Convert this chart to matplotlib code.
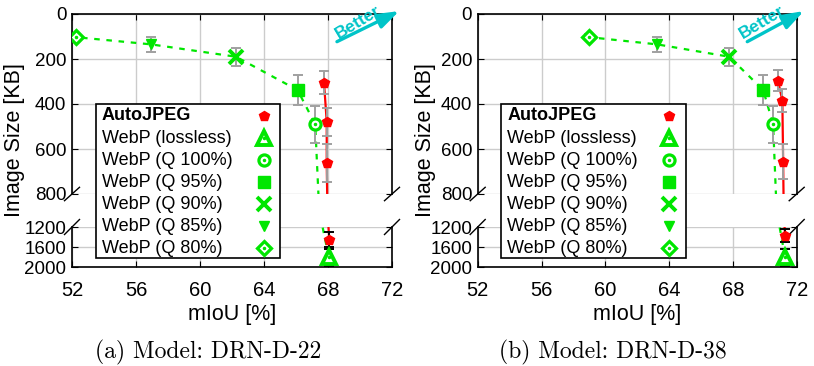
import matplotlib
matplotlib.use('Agg')
from matplotlib import pyplot as plt
from matplotlib.lines import Line2D
from matplotlib.patches import Rectangle

# Dados
webp_labels = ['WebP (lossless)', 'WebP (Q 100%)', 'WebP (Q 95%)',
               'WebP (Q 90%)', 'WebP (Q 85%)', 'WebP (Q 80%)']
webp_size = [1800, 490, 338, 190, 135, 103]
webp_err = [170, 83, 66, 40, 32, 12]
webp_miou_22 = [68.05, 67.2, 66.1, 62.25, 56.95, 52.25]
webp_miou_38 = [71.27, 70.52, 69.9, 67.77, 63.25, 59.0]

auto_label = 'AutoJPEG'
auto_miou_22 = [67.75, 67.92, 67.92, 68.08]
auto_size_22 = [305, 478, 662, 1450]
auto_err_22 = [50, 62, 85, 150]
auto_miou_38 = [70.83, 71.1, 71.15, 71.27]
auto_size_38 = [296, 385, 656, 1377]
auto_err_38 = [47, 52, 77, 130]

captions = ['(a) Model: DRN-D-22', '(b) Model: DRN-D-38']
x_ticks = [52, 56, 60, 64, 68, 72]
y_ticks_top = [0, 200, 400, 600, 800]
y_ticks_bot = [1200, 1600, 2000]

GREEN = '#00e600'
RED = '#ff0000'
CYAN = '#00c4c8'
GRID = '#cccccc'

plt.rcParams['font.family'] = ['Liberation Sans', 'DejaVu Sans']

W, H = 814, 366
fig = plt.figure(figsize=(W / 100, H / 100), dpi=100)


def px(x0, y0, w, h):
    # retangulo em pixels (topo-esquerda) -> fracao da figura
    return [x0 / W, 1 - (y0 + h) / H, w / W, h / H]


def fx(x):
    return x / W


def fy(y):
    return 1 - y / H


# (marker, tamanho, face, espessura)
auto_marker = dict(marker='p', ms=7.2, color=RED)
marcadores = [('^', 10.5, 'white', 2.8), ('o', 8, 'white', 2.3), ('s', 8.2, GREEN, 1.0),
              ('x', 10, GREEN, 2.8), ('v', 6.8, GREEN, 1.0), ('D', 7.2, 'white', 2.3)]
com_ponto = [True, True, False, False, False, True]


def legenda(x_left):
    fig.add_artist(Rectangle((fx(x_left + 23.5), fy(258.3)), 184.5 / W, 154 / H,
                             transform=fig.transFigure, fc='white', ec='black',
                             lw=1.2, zorder=10))
    labels = [auto_label] + webp_labels
    for i, lab in enumerate(labels):
        yy = fy(116 + 22.05 * i)
        fig.text(fx(x_left + 29.5), yy, lab, fontsize=13, ha='left', va='center',
                 fontweight='bold' if i == 0 else 'normal', zorder=11)
        if i == 0:
            kw = dict(auto_marker)
        else:
            m, ms, fc, mew = marcadores[i - 1]
            kw = dict(marker=m, ms=ms, mfc=fc, mec=GREEN, mew=mew)
        fig.add_artist(Line2D([fx(x_left + 191.5)], [yy], ls='none',
                              transform=fig.transFigure, zorder=11, **kw))
        if i > 0 and com_ponto[i - 1]:
            fig.add_artist(Line2D([fx(x_left + 191.5)], [yy], ls='none', marker='.',
                                  ms=3, color=GREEN, transform=fig.transFigure, zorder=12))


def painel(x_left, width, miou_w, miou_a, size_a, err_a, caption,
           arrow_x0, better_x, ylabel_x):
    ax_t = fig.add_axes(px(x_left, 14, width, 180))
    ax_b = fig.add_axes(px(x_left, 227, width, 40))
    for ax, lo, hi, ticks, cor_err in [(ax_t, 0, 800, y_ticks_top, '#a0a0a0'),
                                       (ax_b, 1200, 2000, y_ticks_bot, 'black')]:
        ax.set_xlim(52, 72)
        ax.set_ylim(hi, lo)
        ax.set_xticks(x_ticks)
        ax.set_yticks(ticks)
        ax.grid(True, color=GRID, lw=1)
        ax.set_axisbelow(True)
        ax.tick_params(axis='y', direction='in', length=4, labelsize=13.5, pad=4)
        ax.tick_params(axis='x', direction='in', length=4, labelsize=14.5, pad=10)
        for s in ax.spines.values():
            s.set_linewidth(1.2)

        # linhas
        ax.plot(miou_w, webp_size, ls=(0, (2.5, 3)), color=GREEN, lw=1.6, zorder=2)
        ax.plot(miou_a, size_a, '-', color=RED, lw=1.6, zorder=2)
        ax.errorbar(miou_w, webp_size, yerr=webp_err, fmt='none', ecolor=cor_err,
                    elinewidth=1.4, capsize=3.6, capthick=1.4, zorder=3)
        ax.errorbar(miou_a, size_a, yerr=err_a, fmt='none', ecolor=cor_err,
                    elinewidth=1.4, capsize=3.6, capthick=1.4, zorder=3)
        for i, (m, ms, fc, mew) in enumerate(marcadores):
            ax.plot(miou_w[i], webp_size[i], m, ms=ms, mfc=fc, mec=GREEN, mew=mew, zorder=4)
            if com_ponto[i]:
                ax.plot(miou_w[i], webp_size[i], '.', ms=3, color=GREEN, zorder=5)
        ax.plot(miou_a, size_a, ls='none', zorder=5, **auto_marker)

    ax_t.spines['bottom'].set_visible(False)
    ax_t.tick_params(labelbottom=False, bottom=False, top=True, right=True)
    ax_b.spines['top'].set_visible(False)
    ax_b.tick_params(top=False, right=True)
    ax_b.set_xlabel('mIoU [%]', fontsize=15.5, labelpad=3)

    # marcas de quebra do eixo
    dx = 7.5 / width
    for xx in (0, 1):
        ax_t.plot([xx - dx, xx + dx], [-6.7 / 180, 6.7 / 180], color='black',
                  lw=1, transform=ax_t.transAxes, clip_on=False)
        ax_b.plot([xx - dx, xx + dx], [1 - 7.5 / 40, 1 + 7.5 / 40], color='black',
                  lw=1, transform=ax_b.transAxes, clip_on=False)

    # seta "Better"
    ax_t.annotate('', xy=(72.45, -13), xytext=(arrow_x0, 123),
                  arrowprops=dict(arrowstyle='-|>,head_length=1.3,head_width=0.45',
                                  color=CYAN, lw=2.4, shrinkA=0, shrinkB=0,
                                  mutation_scale=10),
                  annotation_clip=False)
    ax_t.text(better_x, 36, 'Better', color=CYAN, fontsize=12.5, fontweight='bold',
              rotation=31, ha='center', va='center', rotation_mode='anchor')

    fig.text(fx(ylabel_x), fy(140), 'Image Size [KB]', rotation=90,
             fontsize=15.5, ha='center', va='center')
    fig.text(fx(x_left + width / 2 - 24), fy(352), caption, fontsize=17,
             family='cmr10', ha='center', va='center')
    legenda(x_left)


painel(72, 320, webp_miou_22, auto_miou_22, auto_size_22, auto_err_22, captions[0],
       68.56, 69.9, 15)
painel(477.7, 319, webp_miou_38, auto_miou_38, auto_size_38, auto_err_38, captions[1],
       68.9, 69.85, 425)

fig.savefig('out.png', dpi=100)
